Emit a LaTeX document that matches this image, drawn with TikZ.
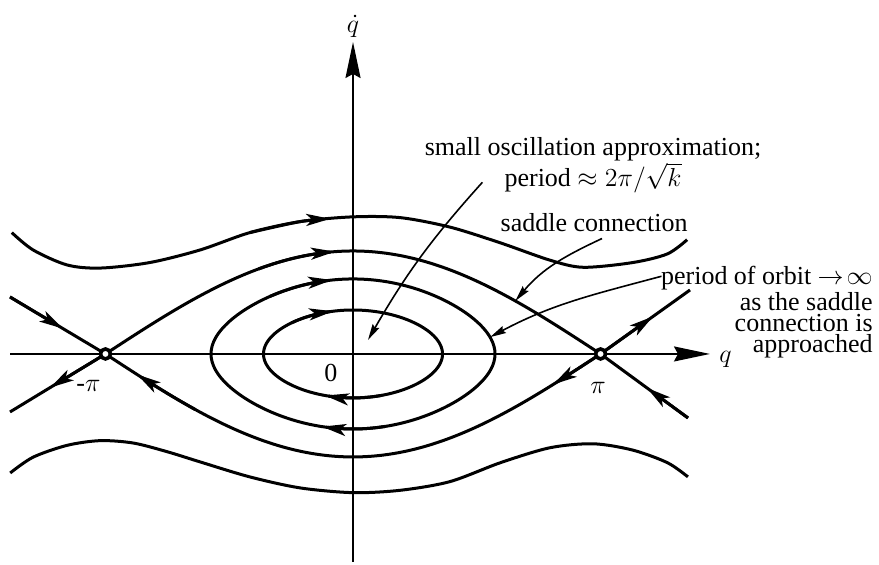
\RequirePackage{fix-cm}
\documentclass[tikz,border=0pt]{standalone}
\usepackage{fontspec}
\setmainfont{Liberation Serif}
\usetikzlibrary{arrows.meta,calc}

\begin{document}
\begin{tikzpicture}[x=1.385cm, y=1.385cm,
  orbit/.style={line width=1.5pt, line join=round},
  farr/.style={-{Stealth[length=12pt, width=6pt, inset=3pt]}},
  axis/.style={line width=0.9pt, -{Stealth[length=18pt, width=7.5pt, inset=2pt]}},
  ptr/.style={line width=0.8pt, -{Stealth[length=8pt, width=3.8pt, inset=1pt]}},
  saddle/.style={circle, draw, fill=white, line width=1.8pt,
    minimum size=5pt, inner sep=0pt},
  lbl/.style={font=\fontsize{13pt}{12pt}\selectfont, inner sep=0pt},
  note/.style={font=\fontsize{13pt}{12pt}\selectfont, inner sep=0pt, align=center}
]
  \useasboundingbox (-4.48,-2.678) rectangle (6.675,4.492);

  % axes
  \draw[axis] (-4.353,0) -- (4.53,0)
    node[right, inner sep=4.3pt, yshift=-2.5pt, font=\fontsize{13pt}{12pt}\selectfont] (qlab) {$q$};
  \draw[axis] (0,-2.64) -- (0,3.959)
    node[above, inner sep=2pt, font=\fontsize{13pt}{12pt}\selectfont] (qdlab) {$\dot q$};

  % closed orbits
  \draw[orbit] plot[domain=-90:270, samples=121, smooth]
    ({2*rad(asin(0.538*sin(\x)))}, {0.558*cos(\x)});
  \draw[orbit, farr] plot[domain=-45:-13.6, samples=12, smooth]
    ({2*rad(asin(0.538*sin(\x)))}, {0.558*cos(\x)});
  \draw[orbit, farr] plot[domain=160:199.2, samples=12, smooth]
    ({2*rad(asin(0.538*sin(\x)))}, {0.558*cos(\x)});
  \draw[orbit] plot[domain=-90:270, samples=121, smooth]
    ({2*rad(asin(0.784*sin(\x)))}, {0.952*cos(\x)});
  \draw[orbit, farr] plot[domain=-40:-9.74, samples=12, smooth]
    ({2*rad(asin(0.784*sin(\x)))}, {0.952*cos(\x)});
  \draw[orbit, farr] plot[domain=165:194.4, samples=12, smooth]
    ({2*rad(asin(0.784*sin(\x)))}, {0.952*cos(\x)});

  % saddle connections
  \coordinate (lsad) at (-3.1416,0);
  \coordinate (rsad) at (3.1416,0);
  \draw[orbit] plot[domain=-3.1416:3.1416, samples=80, smooth]
    (\x, {1.307*cos(deg(\x/2))});
  \draw[orbit, farr] plot[domain=-1.2:-0.23, samples=12, smooth]
    (\x, {1.307*cos(deg(\x/2))});
  \draw[orbit] plot[domain=-3.1416:3.1416, samples=80, smooth]
    (\x, {-1.307*cos(deg(\x/2))});
  \draw[orbit, farr] plot[domain=-3.1416:-2.54, samples=10, smooth]
    ({-\x}, {-1.307*cos(deg(\x/2))});
  \draw[orbit, farr] plot[domain=2.0:2.74, samples=10, smooth]
    ({-\x}, {-1.307*cos(deg(\x/2))});

  % stable and unstable branches
  \coordinate (ul) at (-4.353,0.723);
  \coordinate (ll) at (-4.353,-0.736);
  \coordinate (ur) at (4.277,0.812);
  \coordinate (lr) at (4.251,-0.812);
  \draw[orbit] (ul) -- (lsad) -- (ll);
  \draw[orbit] (ur) -- (rsad) -- (lr);
  \draw[orbit, farr] (ul) -- ($(ul)!0.556!(lsad)$);
  \draw[orbit, farr] (lsad) -- ($(lsad)!0.581!(ll)$);
  \draw[orbit, farr] (rsad) -- ($(rsad)!0.586!(ur)$);
  \draw[orbit, farr] (lr) -- ($(lr)!0.469!(rsad)$);

  % rotations
  \draw[orbit] plot[smooth] coordinates {(-4.33,1.54) (-4.06,1.32)
    (-3.63,1.13) (-3.21,1.09) (-2.58,1.16) (-1.94,1.32) (-1.31,1.54) (-0.67,1.68)
    (0,1.74) (0.60,1.73) (1.23,1.61) (1.87,1.41) (2.50,1.19) (2.92,1.10)
    (3.55,1.16) (3.99,1.27) (4.24,1.45)};
  \draw[orbit, farr] plot[smooth] coordinates {(-1.31,1.54) (-0.67,1.68) (-0.29,1.715)};
  \draw[orbit] plot[smooth] coordinates {(-4.35,-1.51) (-4.06,-1.31) (-3.63,-1.16)
    (-3.21,-1.10) (-2.79,-1.13) (-2.36,-1.24) (-1.94,-1.37) (-1.31,-1.56)
    (-0.67,-1.70) (0,-1.76) (0.60,-1.73) (1.23,-1.62) (1.87,-1.38) (2.50,-1.19)
    (3.05,-1.14) (3.55,-1.22) (3.99,-1.38) (4.25,-1.56)};

  % saddle points
  \node[saddle] (lsadc) at (lsad) {};
  \node[saddle] (rsadc) at (rsad) {};

  % labels
  \node[lbl] (mpi) at (-3.357,-0.406) {-$\pi$};
  \node[lbl] (ppi) at (3.11,-0.425) {$\pi$};
  \node[lbl] (zero) at (-0.28,-0.24) {0};

  \node[note] (osc) at (3.046,2.394)
    {small oscillation approximation;\\period $\approx 2\pi/\sqrt{k}$};
  \node[lbl] (sad) at (3.06,1.662) {saddle connection};
  \node[note, align=right, font=\fontsize{13pt}{10.5pt}\selectfont, anchor=east] (per)
    at (6.599,0.528) {period of orbit $\to\!\infty$\\as the saddle\\connection is\\approached};

  % pointers
  \coordinate (oscend) at (0.19,0.178);
  \coordinate (sadend) at (2.06,0.673);
  \coordinate (perend) at (1.74,0.214);
  \draw[ptr] ([shift={(0.736,0.146)}]osc.south west) to[out=228, in=60] (oscend);
  \draw[ptr] ([shift={(0.10,-0.076)}]sad.south) to[out=205, in=50] (sadend);
  \draw[ptr] ([shift={(0.01,-0.127)}]per.north west) to[out=195, in=28] (perend);
\end{tikzpicture}
\end{document}
